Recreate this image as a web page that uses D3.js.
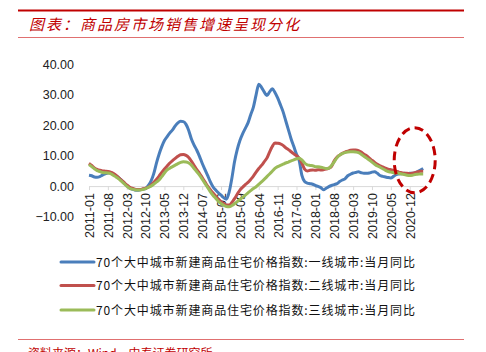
<!DOCTYPE html>
<html lang="zh">
<head>
<meta charset="UTF-8" />
<title>商品房市场销售增速呈现分化</title>
<style>
  body { margin: 0; background: #fff; }
  svg { display: block; }
  .tick text { font-family: "Liberation Sans", Arial, sans-serif; font-size: 12.5px; fill: #222; }
</style>
</head>
<body>
<div id="chart"></div>
<script src="https://cdn.jsdelivr.net/npm/d3@7"></script>
<script>
// month categories 2011-01 .. 2021-05
var months = [];
for (var y = 2011; y <= 2021; y++) {
  for (var m = 1; m <= 12; m++) {
    if (y === 2021 && m > 5) break;
    months.push(y + "-" + (m < 10 ? "0" + m : m));
  }
}

var tickLabels = ["2011-01","2011-08","2012-03","2012-10","2013-05","2013-12","2014-07","2015-02","2015-09",
  "2016-04","2016-11","2017-06","2018-01","2018-08","2019-03","2019-10","2020-05","2020-12"];
var yTicks = [-10, 0, 10, 20, 30, 40];

// 一线城市
var tier1 = [3.6,3.4,3.0,2.9,3.1,3.6,4.0,4.3,4.4,4.0,3.4,2.8,2.0,1.0,0.2,-0.6,-1.0,-1.3,-1.4,-1.2,
  -1.0,-0.8,0.2,1.6,4.0,7.5,10.5,13.0,15.0,16.3,17.5,18.5,19.8,20.8,21.3,21.2,20.3,18.3,15.5,13.5,
  11.8,9.8,7.5,5.5,3.5,1.5,-0.2,-1.3,-2.2,-3.0,-3.8,-4.3,-2.0,2.5,8.0,12.0,15.0,17.2,19.0,20.8,
  23.5,26.0,30.0,33.5,32.5,31.0,29.8,31.0,32.0,30.8,29.0,26.8,24.5,21.5,18.5,15.5,13.0,10.5,8.4,3.5,
  1.5,1.0,0.8,0.6,0.2,-0.1,-0.5,-1.2,-0.7,-0.2,0.2,0.5,0.8,1.5,2.0,2.4,3.4,3.9,4.3,4.5,
  4.7,4.4,4.2,4.2,4.3,4.6,4.7,4.2,3.5,3.2,3.0,2.8,2.7,3.2,3.8,4.0,4.1,4.2,4.1,4.2,
  4.2,4.4,4.8,5.3,5.8];
// 二线城市
var tier2 = [7.5,6.8,6.0,5.5,5.2,5.0,4.9,4.8,4.6,4.2,3.6,2.8,2.0,1.2,0.4,-0.3,-0.7,-1.0,-1.1,-1.1,
  -0.9,-0.7,-0.4,0.3,1.2,2.2,3.3,4.5,5.6,6.6,7.6,8.4,9.1,9.8,10.3,10.4,10.1,9.4,8.2,6.8,
  5.4,4.2,2.8,1.4,0.0,-1.2,-2.3,-3.3,-4.3,-5.1,-5.7,-6.2,-6.2,-5.4,-4.1,-2.7,-1.3,-0.4,0.5,1.2,
  2.2,3.3,4.6,5.8,6.8,8.0,9.2,11.2,13.0,14.2,14.1,13.9,13.4,12.6,12.0,11.3,10.6,10.0,9.2,7.5,
  5.6,5.0,5.2,5.3,5.2,5.4,5.3,5.4,5.6,5.9,6.5,8.3,9.5,10.2,10.8,11.2,11.5,11.8,11.9,11.9,
  11.7,11.2,10.5,10.0,9.2,8.5,7.8,7.2,6.7,6.3,5.9,5.6,5.4,5.2,4.9,4.6,4.4,4.2,4.2,4.1,
  4.2,4.4,4.7,4.9,4.9];
// 三线城市
var tier3 = [7.1,6.4,5.7,5.1,4.8,4.5,4.4,4.3,4.1,3.6,3.0,2.4,1.6,0.8,0.0,-0.7,-1.0,-1.2,-1.3,-1.3,
  -1.1,-0.8,-0.4,0.0,0.6,1.3,2.0,3.1,4.3,5.3,5.9,6.4,6.9,7.4,7.8,8.0,7.9,7.6,6.9,5.8,
  4.7,3.6,2.3,0.9,-0.4,-1.8,-3.0,-4.0,-5.0,-5.7,-6.3,-6.7,-6.8,-6.4,-5.8,-5.1,-4.4,-3.7,-3.0,-2.2,
  -1.5,-0.8,-0.2,0.6,1.4,2.2,3.1,4.0,4.9,5.8,6.4,6.8,7.2,7.6,7.9,8.3,8.6,9.0,9.2,8.6,
  7.6,7.0,6.8,6.7,6.4,6.4,6.2,6.0,5.8,5.9,6.8,8.0,9.3,10.2,10.7,11.0,11.2,11.3,11.3,11.2,
  11.0,10.5,9.8,9.2,8.6,7.9,7.2,6.6,6.2,5.7,5.2,4.8,4.6,4.4,4.3,4.2,4.0,3.8,3.6,3.5,
  3.6,3.8,3.9,4.0,4.0];

var seriesNames = ["70个大中城市新建商品住宅价格指数:一线城市:当月同比",
  "70个大中城市新建商品住宅价格指数:二线城市:当月同比",
  "70个大中城市新建商品住宅价格指数:三线城市:当月同比"];
var colors = ["#4a7ebb", "#c0504d", "#9bbb59"];

var w = 486, h = 352;
var red = "#c00000";

var svg = d3.select("#chart").append("svg")
  .attr("width", w)
  .attr("height", h);

// header
svg.append("line")
  .attr("x1", 18).attr("x2", 464).attr("y1", 10.5).attr("y2", 10.5)
  .attr("stroke", red).attr("stroke-width", 2.2);
svg.append("text")
  .attr("x", 29).attr("y", 30)
  .attr("textLength", 270)
  .style("font-family", "'Noto Sans CJK SC', sans-serif")
  .style("font-size", "15px")
  .style("font-style", "italic")
  .style("fill", red)
  .text("图表：商品房市场销售增速呈现分化");
svg.append("line")
  .attr("x1", 18).attr("x2", 464).attr("y1", 37.5).attr("y2", 37.5)
  .attr("stroke", "#e07070").attr("stroke-width", 1);

// scales
var xScale = d3.scalePoint()
  .domain(months)
  .range([89, 89 + 2.695 * (months.length - 1)]);

var yScale = d3.scaleLinear()
  .domain([-10, 40])
  .range([216.5, 64.5]);

// y axis (labels only)
var yAxis = d3.axisLeft(yScale)
  .tickValues(yTicks)
  .tickFormat(d3.format(".2f"))
  .tickSize(0)
  .tickPadding(0);
var gy = svg.append("g")
  .attr("transform", "translate(74,0)")
  .call(yAxis);
gy.select(".domain").remove();

// x axis at zero
var xAxis = d3.axisBottom(xScale)
  .tickValues(tickLabels)
  .tickSizeInner(4)
  .tickSizeOuter(0);
var gx = svg.append("g")
  .attr("transform", "translate(0," + yScale(0) + ")")
  .call(xAxis);
gx.select(".domain").attr("stroke", "#d9d9d9");
gx.selectAll(".tick line").attr("stroke", "#d9d9d9");
gx.selectAll(".tick text")
  .attr("transform", "rotate(-90)")
  .attr("text-anchor", "end")
  .attr("x", -7)
  .attr("y", 0)
  .attr("dy", "0.35em");

// lines
var line = d3.line()
  .x(function(d, i) { return xScale(months[i]); })
  .y(function(d) { return yScale(d); })
  .curve(d3.curveMonotoneX);

[tier1, tier2, tier3].forEach(function(s, k) {
  svg.append("path")
    .datum(s)
    .attr("fill", "none")
    .attr("stroke", colors[k])
    .attr("stroke-width", 3)
    .attr("stroke-linejoin", "round")
    .attr("d", line);
});

// dashed highlight
svg.append("ellipse")
  .attr("cx", xScale("2020-12") + 5)
  .attr("cy", yScale(8.5))
  .attr("rx", 20.5)
  .attr("ry", 32.5)
  .attr("fill", "none")
  .attr("stroke", red)
  .attr("stroke-width", 3)
  .attr("stroke-dasharray", "9,5");

// legend
var legendY = [262, 285.5, 310];
seriesNames.forEach(function(name, k) {
  svg.append("line")
    .attr("x1", 61).attr("x2", 94)
    .attr("y1", legendY[k]).attr("y2", legendY[k])
    .attr("stroke", colors[k])
    .attr("stroke-width", 3)
    .attr("stroke-linecap", "round");
  svg.append("text")
    .attr("x", 96)
    .attr("y", legendY[k] + 4.5)
    .attr("textLength", 319)
    .style("font-family", "'Noto Sans CJK SC', sans-serif")
    .style("font-size", "12px")
    .style("fill", "#111")
    .text(name);
});

// footer
svg.append("line")
  .attr("x1", 18).attr("x2", 464).attr("y1", 339.5).attr("y2", 339.5)
  .attr("stroke", "#e07070").attr("stroke-width", 1);
svg.append("text")
  .attr("x", 28).attr("y", 358)
  .style("font-family", "'Noto Sans CJK SC', sans-serif")
  .style("font-size", "12px")
  .style("fill", red)
  .text("资料来源：Wind，中泰证券研究所");
</script>
</body>
</html>
